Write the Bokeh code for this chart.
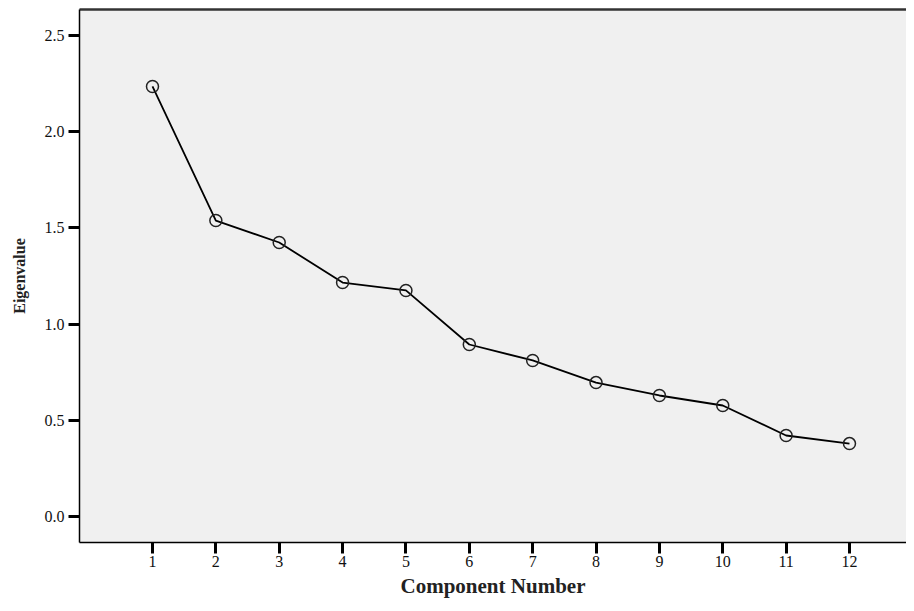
from bokeh.plotting import figure
from bokeh.models import Range1d, FixedTicker, LinearAxis, PrintfTickFormatter
from bokeh.embed import file_html
from bokeh.resources import INLINE

components = [1, 2, 3, 4, 5, 6, 7, 8, 9, 10, 11, 12]
eigenvalues = [2.235, 1.538, 1.424, 1.216, 1.175, 0.894, 0.811, 0.696, 0.629, 0.577, 0.421, 0.379]
y_ticks = [0.0, 0.5, 1.0, 1.5, 2.0, 2.5]

p = figure(width=906, height=603, output_backend="svg", toolbar_location=None,
           x_range=Range1d(-0.152, 12.90), y_range=Range1d(-0.135, 2.635),
           min_border_left=79, min_border_right=0, min_border_top=9, min_border_bottom=61)

p.background_fill_color = "#f0f0f0"
p.border_fill_color = "white"
p.outline_line_color = None
p.grid.visible = False

p.line(components, eigenvalues, line_color="black", line_width=1.8)
p.scatter(components, eigenvalues, size=12, marker="circle", fill_alpha=0,
          line_color="#222222", line_width=1.5)

xa = p.below[0]
ya = p.left[0]

font = "Liberation Serif"
for ax in (xa, ya):
    ax.axis_line_color = "black"
    ax.axis_line_width = 1.5
    ax.major_tick_line_color = "black"
    ax.major_tick_line_width = 3
    ax.major_tick_out = 11
    ax.major_tick_in = 0
    ax.minor_tick_line_color = None
    ax.major_label_text_font = font
    ax.major_label_text_font_size = "16px"
    ax.major_label_text_color = "#111111"
    ax.axis_label_text_font = font
    ax.axis_label_text_font_style = "bold"
    ax.axis_label_text_color = "#222222"

xa.ticker = FixedTicker(ticks=components)
xa.major_label_standoff = 2
xa.axis_label = "Component Number"
xa.axis_label_text_font_size = "21px"
xa.axis_label_standoff = 4

ya.ticker = FixedTicker(ticks=y_ticks)
ya.formatter = PrintfTickFormatter(format="%.1f")
ya.major_label_standoff = 4
ya.axis_label = "Eigenvalue"
ya.axis_label_text_font_size = "16px"
ya.axis_label_standoff = 14

top = LinearAxis(ticker=FixedTicker(ticks=[]), major_tick_line_color=None,
                 minor_tick_line_color=None, major_label_standoff=0,
                 major_label_text_font_size="0px", axis_line_color="#333333",
                 axis_line_width=2.5)
p.add_layout(top, "above")

open("out.html", "w").write(file_html(p, INLINE))
